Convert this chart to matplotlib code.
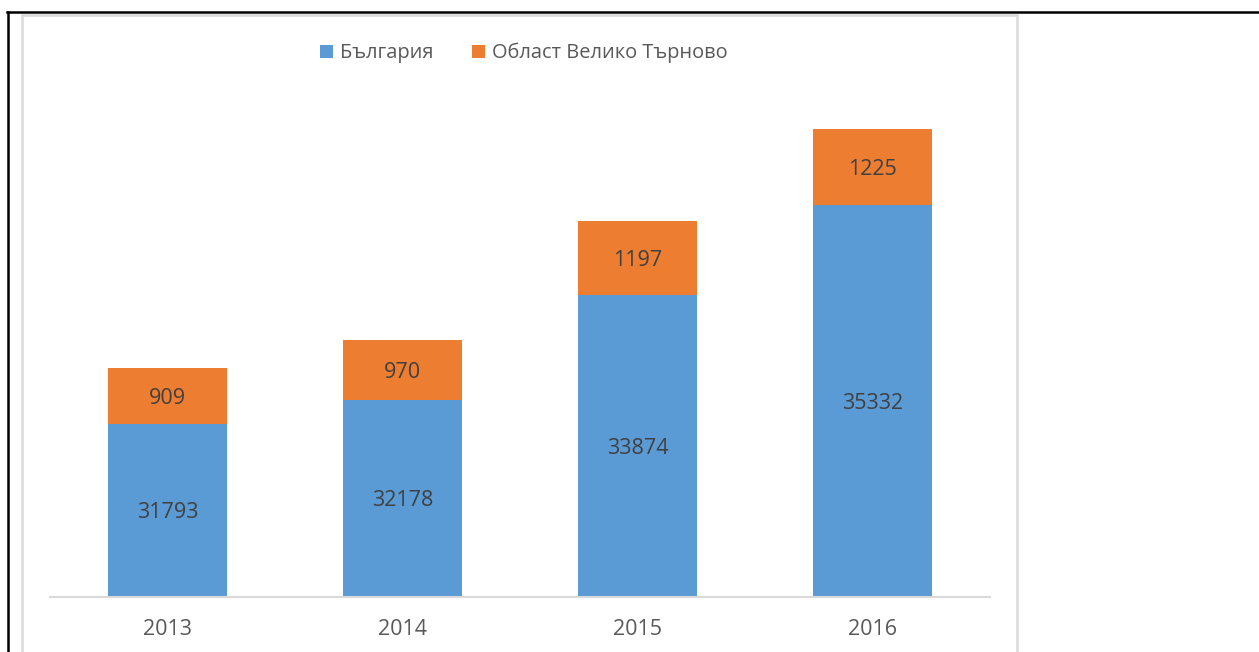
import numpy as np
import matplotlib
matplotlib.use('Agg')
import matplotlib.pyplot as plt
from matplotlib.lines import Line2D
from matplotlib.patches import Rectangle

years = ['2013', '2014', '2015', '2016']
bulgaria = [31793, 32178, 33874, 35332]
veliko_tarnovo = [909, 970, 1197, 1225]
series_names = ['България', 'Област Велико Търново']

blue = '#5B9BD5'
orange = '#ED7D31'
txt = '#595959'

plt.rcParams['font.family'] = ['Open Sans', 'DejaVu Sans']

W, H = 1259, 652
fig = plt.figure(figsize=(W / 100, H / 100), dpi=100)

# axes placed in pixel terms (bottom axis line at y=597)
ax = fig.add_axes([50 / W, (H - 597) / H, 940 / W, 495 / H])

x = np.arange(len(years))
b1 = ax.bar(x, bulgaria, width=0.51, color=blue, label=series_names[0], zorder=2)
b2 = ax.bar(x, veliko_tarnovo, width=0.51, bottom=bulgaria, color=orange,
            label=series_names[1], zorder=2)

ymin = 29000
ax.set_ylim(ymin, 37000)
ax.set_xlim(-0.5, 3.5)

# data labels in the middle of each segment (slightly lower, like Excel)
off = 35
for i in range(len(years)):
    ax.text(x[i], (ymin + bulgaria[i]) / 2 - off, str(bulgaria[i]), ha='center', va='center',
            fontsize=15.5, color='#404040', zorder=3)
    ax.text(x[i], bulgaria[i] + veliko_tarnovo[i] / 2 - off, str(veliko_tarnovo[i]),
            ha='center', va='center', fontsize=15.5, color='#404040', zorder=3)

ax.set_xticks(x)
ax.set_xticklabels(years, fontsize=15.5, color=txt)
ax.tick_params(axis='x', length=0, pad=16)
ax.set_yticks([])
for s in ['top', 'left', 'right']:
    ax.spines[s].set_visible(False)
ax.spines['bottom'].set_color('#d9d9d9')
ax.spines['bottom'].set_linewidth(1.5)

leg = fig.legend(handles=[b1, b2], loc='center', bbox_to_anchor=(524 / W, 1 - 53 / H),
                 ncol=2, frameon=False, fontsize=14.4, handlelength=0.65, handleheight=0.65,
                 handletextpad=0.35, columnspacing=1.9)
for t in leg.get_texts():
    t.set_color(txt)

# chart area border (light gray) and outer black frame
fig.patches.append(Rectangle((22 / W, -0.1), (1017 - 22) / W, 1.1 - 15 / H,
                             transform=fig.transFigure, fill=False,
                             edgecolor='#d9d9d9', linewidth=1.8))
fig.lines.append(Line2D([7 / W, 1], [1 - 12 / H, 1 - 12 / H], transform=fig.transFigure,
                        color='black', linewidth=1.8))
fig.lines.append(Line2D([8 / W, 8 / W], [1 - 12 / H, 0], transform=fig.transFigure,
                        color='black', linewidth=1.8))

fig.savefig('out.png', dpi=100)
